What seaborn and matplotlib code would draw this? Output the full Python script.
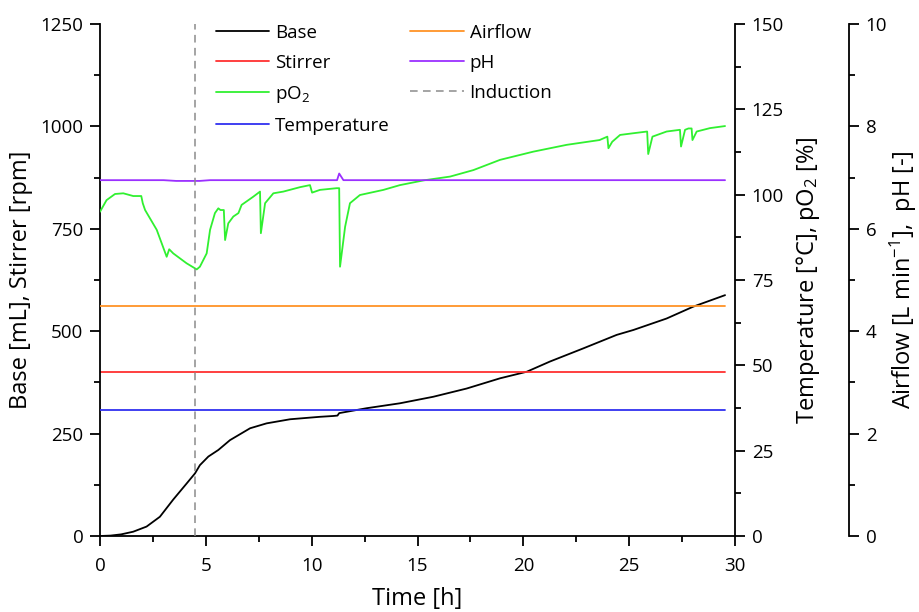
import matplotlib
matplotlib.use("Agg")
import matplotlib.pyplot as plt
import numpy as np
import pandas as pd
import seaborn as sns
from matplotlib.ticker import MultipleLocator

sns.set_style("ticks")
plt.rcParams["font.family"] = ["Open Sans", "DejaVu Sans"]
plt.rcParams["mathtext.fontset"] = "custom"
plt.rcParams["mathtext.rm"] = "Open Sans"
plt.rcParams["mathtext.it"] = "Open Sans:italic"
plt.rcParams["mathtext.bf"] = "Open Sans:bold"
plt.rcParams["text.color"] = "black"
plt.rcParams["axes.labelcolor"] = "black"
plt.rcParams["xtick.color"] = "black"
plt.rcParams["ytick.color"] = "black"

# ---- process data -------------------------------------------------------
induction_h = 4.5

base_t = [0, 0.5, 1.0, 1.57, 2.2, 2.83, 3.46, 4.09, 4.49, 4.72, 5.12, 5.59,
          6.14, 7.09, 7.87, 8.98, 10.39, 11.02, 11.22, 11.3, 12.6, 14.17,
          15.75, 17.32, 18.9, 20.16, 21.26, 22.83, 24.41, 25.2, 26.77,
          28.03, 29.53]
base_ml = [0, 1, 4, 10.5, 23, 47, 89, 128, 153, 173, 194, 210,
           234, 263, 275, 285, 291, 293, 294, 300, 312, 324,
           340, 360, 385, 401, 426, 458, 491, 503, 531,
           560, 588]

stirrer_t = [0, 29.53]
stirrer_rpm = [400, 400]

temp_t = [0, 29.53]
temp_c = [37, 37]

po2_t = [0, 0.31, 0.71, 1.1, 1.57, 1.95, 2.02, 2.13, 2.68, 3.15, 3.27, 3.46,
         4.09, 4.57, 4.72, 5.04, 5.2, 5.43, 5.59, 5.69, 5.85, 5.91, 6.06,
         6.3, 6.54, 6.69, 7.24, 7.56, 7.6, 7.8, 8.19, 8.66, 9.45, 9.92,
         10.02, 10.39, 11.18, 11.3, 11.34, 11.58, 11.81, 12.28, 13.39,
         14.17, 15.3, 16.54, 17.64, 18.9, 20.47, 22.05, 23.6, 23.97, 24.02,
         24.2, 24.57, 25.2, 25.85, 25.9, 26.1, 26.77, 27.4, 27.45, 27.64,
         27.8, 27.95, 27.99, 28.19, 28.82, 29.53]
po2_pct = [95.0, 98.4, 100.2, 100.4, 99.6, 99.6, 97.5, 95.5, 89.7, 81.8, 84.0,
           82.8, 79.9, 78.1, 78.9, 82.8, 89.7, 94.6, 96.0, 95.5, 95.5, 86.7,
           91.6, 93.6, 94.6, 97.0, 99.4, 100.9, 88.7, 97.5, 100.4, 100.9,
           102.2, 102.8, 100.6, 101.4, 101.9, 101.9, 78.9, 90.6, 97.5, 99.9,
           101.4, 102.8, 104.2, 105.3, 107.2, 110.2, 112.6, 114.6, 116.0,
           117.0, 113.6, 115.5, 117.5, 118.0, 118.5, 111.9, 117.0, 118.5,
           119.0, 114.1, 119.0, 119.4, 119.4, 116.0, 118.5, 119.5, 120.1]

airflow_t = [0, 29.53]
airflow_lpm = [4.5, 4.5]

ph_t = [0, 3.0, 3.6, 4.7, 5.2, 11.2, 11.3, 11.5, 29.53]
ph_val = [6.95, 6.95, 6.935, 6.935, 6.95, 6.95, 7.08, 6.95, 6.95]

# ---- colours -----------------------------------------------------------
c_base = "#000000"
c_stirrer = "#ff3030"
c_po2 = "#30f030"
c_temp = "#3030f0"
c_air = "#ff9326"
c_ph = "#9b30ff"
c_ind = "#8c8c8c"

LW = 1.3
W, H = 919, 612
fig = plt.figure(figsize=(W / 100, H / 100), dpi=100)
ax = fig.add_axes([100 / W, 1 - 536 / H, 635 / W, 512 / H])
ax2 = ax.twinx()
ax3 = ax.twinx()

# left axis: base and stirrer
sns.lineplot(data=pd.DataFrame({"t": base_t, "v": base_ml}), x="t", y="v",
             ax=ax, color=c_base, lw=LW, label="Base")
sns.lineplot(data=pd.DataFrame({"t": stirrer_t, "v": stirrer_rpm}), x="t",
             y="v", ax=ax, color=c_stirrer, lw=LW, label="Stirrer")

# first right axis: pO2 and temperature
sns.lineplot(data=pd.DataFrame({"t": po2_t, "v": po2_pct}), x="t", y="v",
             ax=ax2, color=c_po2, lw=LW, label="pO$_2$")
sns.lineplot(data=pd.DataFrame({"t": temp_t, "v": temp_c}), x="t", y="v",
             ax=ax2, color=c_temp, lw=LW, label="Temperature")

# second right axis: airflow and pH
sns.lineplot(data=pd.DataFrame({"t": airflow_t, "v": airflow_lpm}), x="t",
             y="v", ax=ax3, color=c_air, lw=LW, label="Airflow")
sns.lineplot(data=pd.DataFrame({"t": ph_t, "v": ph_val}), x="t", y="v",
             ax=ax3, color=c_ph, lw=LW, label="pH")
ax3.axvline(induction_h, color=c_ind, lw=1.1, ls=(0, (5, 3.5)),
            label="Induction")

for a in (ax, ax2, ax3):
    leg = a.get_legend()
    if leg is not None:
        leg.remove()

ax.set_xlim(0, 30)
ax.set_ylim(0, 1250)
ax2.set_ylim(0, 150)
ax3.set_ylim(0, 10)

ax.xaxis.set_major_locator(MultipleLocator(5))
ax.xaxis.set_minor_locator(MultipleLocator(2.5))
ax.yaxis.set_major_locator(MultipleLocator(250))
ax.yaxis.set_minor_locator(MultipleLocator(125))
ax2.yaxis.set_major_locator(MultipleLocator(25))
ax2.yaxis.set_minor_locator(MultipleLocator(12.5))
ax3.yaxis.set_major_locator(MultipleLocator(2))
ax3.yaxis.set_minor_locator(MultipleLocator(1))

ax.spines["top"].set_visible(False)
ax.spines["right"].set_visible(False)
for a in (ax2, ax3):
    for s in ("top", "left", "bottom"):
        a.spines[s].set_visible(False)
ax3.spines["right"].set_position(("axes", 749 / 635))

SP_W = 1.3
for a in (ax, ax2, ax3):
    for s in a.spines.values():
        s.set_linewidth(SP_W)
        s.set_color("black")
    a.tick_params(which="major", direction="out", length=7, width=SP_W,
                  labelsize=13.5, colors="black", pad=5)
    a.tick_params(which="minor", direction="out", length=4, width=SP_W,
                  colors="black")
ax.tick_params(axis="x", which="major", pad=8)

ax.set_xlabel("Time [h]", fontsize=17)
ax.set_ylabel("Base [mL], Stirrer [rpm]", fontsize=17)
ax2.set_ylabel("Temperature [°C], pO$_2$ [%]", fontsize=17)
ax3.set_ylabel("Airflow [L min$^{-1}$],  pH [-]", fontsize=17)
ax.xaxis.set_label_coords(0.5, -0.1)
ax.yaxis.set_label_coords(-0.105, 0.5)
ax2.yaxis.set_label_coords(1.093, 0.5)
ax3.yaxis.set_label_coords(1.241, 0.5)

handles, labels = [], []
for a in (ax, ax2, ax3):
    h, l = a.get_legend_handles_labels()
    handles += h
    labels += l
order = ["Base", "Stirrer", "pO$_2$", "Temperature", "Airflow", "pH",
         "Induction"]
lookup = dict(zip(labels, handles))
fig.legend([lookup[k] for k in order], order, ncol=2, frameon=False,
           loc="upper left", bbox_to_anchor=(216 / W, 1 - 24 / H),
           fontsize=13.5, handlelength=2.85, handletextpad=0.3,
           columnspacing=1.1, labelspacing=0.64, borderpad=0,
           borderaxespad=0)

fig.savefig("out.png", dpi=100, facecolor="white")
